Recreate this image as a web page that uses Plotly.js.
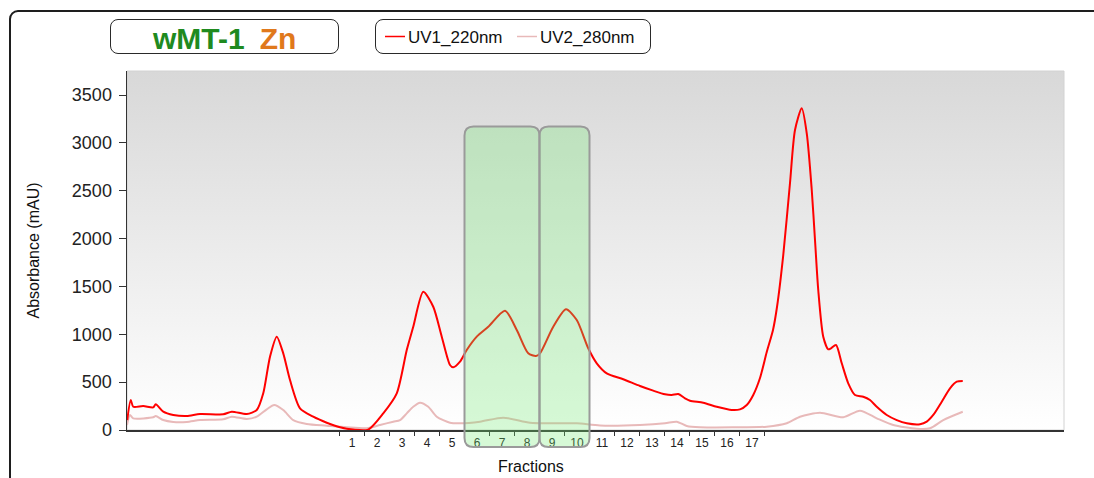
<!DOCTYPE html>
<html>
<head>
<meta charset="utf-8">
<script src="https://cdn.plot.ly/plotly-3.0.1.min.js"></script>
<style>
  html, body { margin: 0; padding: 0; background: #fff; overflow: hidden; }
  #wrap { position: relative; width: 1094px; height: 478px; overflow: hidden; }
  .frame { position: absolute; left: 9px; top: 10px; width: 1200px; height: 600px;
           border: 2px solid #1e1e1e; border-radius: 9px; box-sizing: border-box; }
  .pill { position: absolute; top: 19px; height: 35px; border: 1.5px solid #2a2a2a;
          border-radius: 8px; box-sizing: border-box; }
  #chart { position: absolute; left: 0; top: 0; }
</style>
</head>
<body>
<div id="wrap">
  <div class="frame"></div>
  <div class="pill" style="left:110px;width:229px"></div>
  <div class="pill" style="left:375px;width:276px"></div>
  <div id="chart"></div>
</div>
<script>
// Elution volume (mL) and absorbance (mAU) for the two detector channels
const uv1Name = 'UV1_220nm';
const uv1Volume = [0.01, 0.15, 0.25, 0.65, 1.05, 1.15, 1.45, 1.85, 2.39, 2.92, 3.85, 4.19, 4.79, 5.19, 5.45, 5.72, 5.99, 6.25, 6.52, 6.92, 7.45, 7.99, 8.52, 9.05, 9.65, 10.25, 10.79, 11.19, 11.45, 11.85, 12.25, 12.59, 12.92, 13.05, 13.32, 13.59, 13.99, 14.45, 15.12, 15.59, 16.05, 16.36, 16.52, 17.05, 17.56, 17.99, 18.45, 18.79, 19.19, 19.85, 20.52, 21.05, 21.52, 21.79, 22.05, 22.32, 22.52, 23.05, 23.59, 24.19, 24.52, 24.79, 25.05, 25.32, 25.59, 25.84, 26.0, 26.25, 26.52, 26.72, 26.99, 27.19, 27.39, 27.52, 27.65, 27.85, 28.05, 28.16, 28.36, 28.59, 28.85, 29.12, 29.45, 29.72, 29.99, 30.39, 30.79, 31.19, 31.72, 31.99, 32.25, 32.59, 32.92, 33.19, 33.43];
const uv1Abs = [104, 313, 243, 251, 237, 269, 191, 157, 146, 167, 164, 191, 167, 209, 383, 766, 975, 801, 522, 227, 139, 76, 28, 4, 4, 174, 383, 836, 1079, 1445, 1288, 975, 679, 655, 714, 836, 975, 1079, 1246, 1045, 801, 773, 801, 1079, 1261, 1149, 854, 697, 592, 530, 460, 411, 373, 366, 376, 331, 306, 285, 243, 209, 216, 261, 366, 543, 815, 1045, 1285, 1828, 2581, 3134, 3361, 3100, 2508, 1985, 1463, 975, 843, 854, 888, 697, 488, 366, 348, 313, 243, 157, 104, 70, 60, 87, 157, 296, 436, 505, 512];

const uv2Name = 'UV2_280nm';
const uv2Volume = [0.0, 0.12, 0.25, 1.05, 1.15, 1.45, 1.85, 2.39, 2.92, 3.85, 4.19, 4.79, 5.19, 5.59, 5.89, 6.25, 6.65, 7.19, 7.99, 8.79, 9.59, 10.12, 10.65, 10.92, 11.19, 11.45, 11.72, 12.05, 12.39, 12.92, 13.32, 14.12, 15.05, 16.12, 17.05, 17.99, 18.92, 20.52, 21.52, 21.99, 22.39, 22.92, 24.25, 25.59, 26.39, 26.92, 27.72, 28.65, 29.32, 29.99, 30.65, 31.59, 32.12, 32.65, 33.43];
const uv2Abs = [52, 157, 122, 133, 146, 104, 84, 84, 104, 112, 139, 115, 139, 216, 261, 209, 104, 63, 45, 28, 18, 52, 87, 104, 174, 243, 285, 243, 139, 76, 70, 87, 129, 76, 70, 70, 47, 52, 70, 87, 42, 28, 28, 35, 70, 139, 181, 133, 202, 122, 52, 12, 18, 104, 191];

// Fraction collector: 17 fractions of 1 mL, the first starting at 8.5 mL
const fractionLabels = ['1', '2', '3', '4', '5', '6', '7', '8', '9', '10', '11', '12', '13', '14', '15', '16', '17'];
const fractionStart = 8.5;
const fractionSize = 1;
// Pooled fraction ranges (first and last fraction of each pool)
const pools = [[6, 8], [9, 10]];
const poolTopAbs = 3170;

const yTicks = [0, 500, 1000, 1500, 2000, 2500, 3000, 3500];
const chartTitle = 'wMT-1';
const metalLabel = 'Zn';

// ---- geometry helpers ----
const W = 1094, H = 478;
const M = { l: 127, r: 30, t: 71, b: 48 };
const plotW = W - M.l - M.r, plotH = H - M.t - M.b;
const X_RANGE = [0, 37.48];
const Y_RANGE = [0, 3751];
const px2x = px => (px - M.l) / plotW;            // page px -> paper x
const py2y = py => (H - M.b - py) / plotH;        // page py -> paper y
const pxPerX = plotW / (X_RANGE[1] - X_RANGE[0]);

const fractionBounds = fractionLabels.map((_, i) => fractionStart + i * fractionSize)
  .concat([fractionStart + fractionLabels.length * fractionSize]);
const fractionCenters = fractionLabels.map((_, i) => fractionStart + (i + 0.5) * fractionSize);

function roundedPath(x0, x1, y0, y1, rx, ry) {
  return `M${x0 + rx},${y1} L${x1 - rx},${y1} Q${x1},${y1} ${x1},${y1 - ry} ` +
         `L${x1},${y0 + ry} Q${x1},${y0} ${x1 - rx},${y0} L${x0 + rx},${y0} ` +
         `Q${x0},${y0} ${x0},${y0 + ry} L${x0},${y1 - ry} Q${x0},${y1} ${x0 + rx},${y1} Z`;
}

const traces = [
  { x: uv2Volume, y: uv2Abs, type: 'scatter', mode: 'lines', name: uv2Name,
    line: { color: '#e8b9b9', width: 2, shape: 'spline', smoothing: 0.7 }, showlegend: false },
  { x: uv1Volume, y: uv1Abs, type: 'scatter', mode: 'lines', name: uv1Name,
    line: { color: '#ff0000', width: 2, shape: 'spline', smoothing: 0.7 }, showlegend: false }
];

const shapes = [
  // light frame around the plotting area
  { type: 'rect', xref: 'paper', yref: 'paper', x0: 0, x1: 1, y0: 0, y1: 1,
    line: { color: '#d2d2d2', width: 1 }, layer: 'below' },
  // legend swatches
  { type: 'line', xref: 'paper', yref: 'paper', x0: px2x(385), x1: px2x(405), y0: py2y(36.5), y1: py2y(36.5),
    line: { color: '#ff0000', width: 1.5 } },
  { type: 'line', xref: 'paper', yref: 'paper', x0: px2x(517), x1: px2x(537), y0: py2y(36.5), y1: py2y(36.5),
    line: { color: '#e8b9b9', width: 1.5 } }
];

// pooled fraction highlights
const rx = 9 / pxPerX, ry = 9 / plotH;
pools.forEach(([first, last]) => {
  const x0 = fractionBounds[first - 1], x1 = fractionBounds[last];
  const yTop = poolTopAbs / Y_RANGE[1], yBot = py2y(447);
  shapes.push({ type: 'path', xref: 'x', yref: 'paper', layer: 'above',
    path: roundedPath(x0, x1, yBot, yTop, rx, ry),
    fillcolor: 'rgba(112,236,112,0.29)', line: { color: '#9a9a9a', width: 2 } });
});

const bgSvg = '<svg xmlns="http://www.w3.org/2000/svg" width="100" height="100" viewBox="0 0 100 100" preserveAspectRatio="none">' +
  '<defs><linearGradient id="g" x1="0" y1="0" x2="0" y2="1"><stop offset="0" stop-color="#d8d8d8"/>' +
  '<stop offset="1" stop-color="#ffffff"/></linearGradient></defs><rect width="100" height="100" fill="url(#g)"/></svg>';

const FONT = 'Liberation Sans, Arial, sans-serif';

const annotations = [
  { xref: 'paper', yref: 'paper', x: px2x(224), y: py2y(38), xanchor: 'center', yanchor: 'middle', showarrow: false,
    text: '<b>' + chartTitle + '\u2002<span style="color:#e0791c">' + metalLabel + '</span></b>',
    font: { family: FONT, size: 30, color: '#1f8a1f' } },
  { xref: 'paper', yref: 'paper', x: px2x(406), y: py2y(37), xanchor: 'left', yanchor: 'middle', showarrow: false,
    text: uv1Name, font: { family: FONT, size: 17, color: '#111' } },
  { xref: 'paper', yref: 'paper', x: px2x(538), y: py2y(37), xanchor: 'left', yanchor: 'middle', showarrow: false,
    text: uv2Name, font: { family: FONT, size: 17, color: '#111' } },
  { xref: 'x', yref: 'paper', x: (531 - M.l) / pxPerX, y: py2y(466), xanchor: 'center', yanchor: 'middle', showarrow: false,
    text: 'Fractions', font: { family: FONT, size: 16, color: '#111' } }
];

const layout = {
  width: W, height: H,
  margin: { l: M.l, r: M.r, t: M.t, b: M.b, pad: 0 },
  paper_bgcolor: 'rgba(0,0,0,0)', plot_bgcolor: 'rgba(0,0,0,0)',
  font: { family: FONT, color: '#222' },
  showlegend: false,
  xaxis: {
    range: X_RANGE, showgrid: false, zeroline: false,
    showline: true, linecolor: '#333', linewidth: 1.5,
    tickmode: 'array', tickvals: fractionCenters, ticktext: fractionLabels, ticks: '',
    ticklabelstandoff: 1,
    tickfont: { family: FONT, size: 12, color: '#222' },
    minor: { tickmode: 'array', tickvals: fractionBounds, ticks: 'outside', ticklen: 4, tickwidth: 1, tickcolor: '#333', showgrid: false }
  },
  yaxis: {
    range: Y_RANGE, showgrid: false, zeroline: false,
    showline: true, linecolor: '#333', linewidth: 1.5,
    tickmode: 'array', tickvals: yTicks, ticks: 'outside', ticklen: 7, tickwidth: 1, tickcolor: '#333',
    ticklabelstandoff: 3,
    tickfont: { family: FONT, size: 18, color: '#222' },
    title: { text: 'Absorbance (mAU)', font: { family: FONT, size: 16, color: '#111' }, standoff: 28 }
  },
  images: [{ source: 'data:image/svg+xml;base64,' + btoa(bgSvg), xref: 'paper', yref: 'paper',
             x: 0, y: 1, sizex: 1, sizey: 1, sizing: 'stretch', xanchor: 'left', yanchor: 'top', layer: 'below' }],
  shapes: shapes,
  annotations: annotations
};

Plotly.newPlot('chart', traces, layout, { staticPlot: true, displayModeBar: false });
</script>
</body>
</html>
